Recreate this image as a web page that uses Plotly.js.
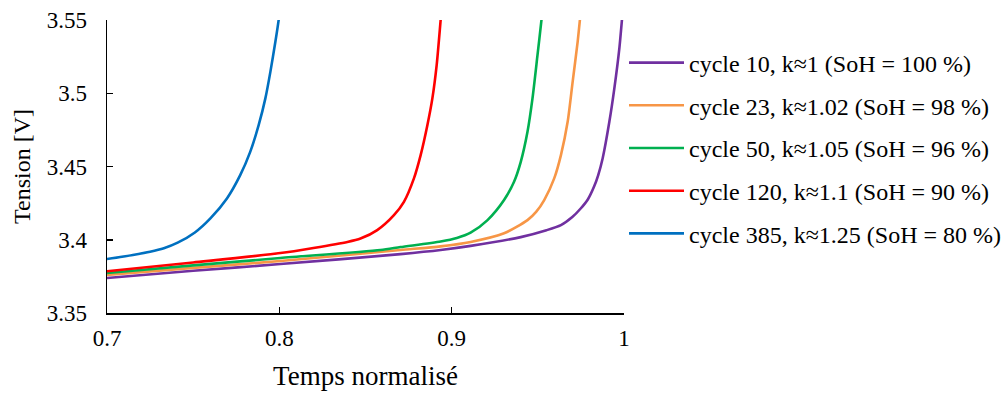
<!DOCTYPE html>
<html>
<head>
<meta charset="utf-8">
<script src="https://cdn.plot.ly/plotly-3.0.1.min.js"></script>
<style>html,body{margin:0;padding:0;background:#fff;}#chart{width:1004px;height:394px;}</style>
</head>
<body>
<div id="chart"></div>
<script>
const names = [
  "cycle 10, k\u22481 (SoH = 100 %)",
  "cycle 23, k\u22481.02 (SoH = 98 %)",
  "cycle 50, k\u22481.05 (SoH = 96 %)",
  "cycle 120, k\u22481.1 (SoH = 90 %)",
  "cycle 385, k\u22481.25 (SoH = 80 %)"
];
const colors = ["#7030A0", "#F79646", "#00B050", "#FF0000", "#0070C0"];

const x10 = [0.7, 0.75, 0.8006, 0.8703, 0.8936, 0.911, 0.9401, 0.955, 0.9634, 0.97, 0.975, 0.979, 0.9827, 0.985, 0.9876, 0.9915, 0.9944, 0.9973, 0.9988, 1.0];
const v10 = [3.3739, 3.3788, 3.3834, 3.3902, 3.393, 3.3958, 3.4018, 3.4065, 3.41, 3.4155, 3.4215, 3.4275, 3.4365, 3.444, 3.4555, 3.4805, 3.5033, 3.5306, 3.5499, 3.5650];

const x23 = [0.7, 0.75, 0.8006, 0.8703, 0.8936, 0.911, 0.9304, 0.944, 0.949, 0.9537, 0.9595, 0.9634, 0.9673, 0.9702, 0.9731, 0.9744, 0.9754];
const v23 = [3.376, 3.3808, 3.3855, 3.393, 3.3955, 3.3985, 3.4044, 3.4134, 3.419, 3.4271, 3.4419, 3.4578, 3.4805, 3.5078, 3.5351, 3.5499, 3.5620];

const x50 = [0.7, 0.75, 0.8006, 0.8587, 0.8703, 0.8936, 0.903, 0.911, 0.9208, 0.9304, 0.9362, 0.9401, 0.944, 0.9469, 0.9498, 0.9521, 0.9531];
const v50 = [3.3773, 3.3825, 3.3875, 3.393, 3.395, 3.3988, 3.4012, 3.4048, 3.4134, 3.4271, 3.4396, 3.4532, 3.4737, 3.4965, 3.526, 3.5499, 3.5620];

const x120 = [0.7, 0.75, 0.8006, 0.8198, 0.8395, 0.8471, 0.8568, 0.8665, 0.8723, 0.8781, 0.882, 0.8859, 0.8888, 0.8913, 0.8936, 0.8945];
const v120 = [3.3785, 3.3845, 3.3909, 3.3944, 3.3985, 3.4008, 3.4066, 3.4168, 3.4259, 3.4419, 3.4578, 3.4782, 3.4965, 3.5192, 3.5499, 3.5620];

const x385 = [0.7, 0.715, 0.725, 0.733, 0.741, 0.751, 0.76, 0.7696, 0.7773, 0.7831, 0.788, 0.7919, 0.7948, 0.7977, 0.7996, 0.8004];
const v385 = [3.3868, 3.3896, 3.3918, 3.3942, 3.398, 3.405, 3.4146, 3.4282, 3.4441, 3.46, 3.4782, 3.4965, 3.5146, 3.5351, 3.5499, 3.5580];

const xs = [x10, x23, x50, x120, x385];
const vs = [v10, v23, v50, v120, v385];

const xTicks = [0.7, 0.8, 0.9, 1];
const xTickText = ["0.7", "0.8", "0.9", "1"];
const yTicks = [3.35, 3.4, 3.45, 3.5, 3.55];
const yTickText = ["3.35", "3.4", "3.45", "3.5", "3.55"];

const FONT = "Liberation Serif, Times New Roman, serif";

const traces = names.map((n, i) => ({
  type: "scatter",
  mode: "lines",
  x: xs[i],
  y: vs[i],
  name: n,
  legendgroup: "g" + i,
  line: {color: colors[i], width: 2.6, shape: "spline", smoothing: 0.7}
}));

const layout = {
  width: 1004,
  height: 394,
  paper_bgcolor: "#fff",
  plot_bgcolor: "#fff",
  margin: {l: 107, r: 380, t: 20, b: 81, autoexpand: false},
  font: {family: FONT, size: 23, color: "#000"},
  showlegend: true,
  legend: {
    x: 1.0, xanchor: "left", y: 0.93, yanchor: "top",
    font: {family: FONT, size: 24, color: "#000"},
    tracegroupgap: 8.5,
    itemwidth: 55,
    bgcolor: "rgba(0,0,0,0)"
  },
  xaxis: {
    range: [0.7, 1],
    tickvals: xTicks, ticktext: xTickText,
    ticks: "inside", ticklen: 6, tickwidth: 1.5, tickcolor: "#000",
    ticklabelstandoff: 4,
    showline: true, linecolor: "#000", linewidth: 1.5,
    showgrid: false, zeroline: false,
    tickfont: {family: FONT, size: 23, color: "#000"},
    title: {text: "Temps normalisé", font: {family: FONT, size: 27, color: "#000"}, standoff: 16},
    automargin: false
  },
  yaxis: {
    range: [3.35, 3.55],
    tickvals: yTicks, ticktext: yTickText,
    ticks: "inside", ticklen: 6, tickwidth: 1.5, tickcolor: "#000",
    ticklabelstandoff: 14,
    showline: true, linecolor: "#000", linewidth: 1.5,
    showgrid: false, zeroline: false,
    tickfont: {family: FONT, size: 23, color: "#000"},
    title: {text: "Tension [V]", font: {family: FONT, size: 24, color: "#000"}, standoff: 9},
    automargin: false
  }
};

Plotly.newPlot("chart", traces, layout, {staticPlot: true, displayModeBar: false});
</script>
</body>
</html>
